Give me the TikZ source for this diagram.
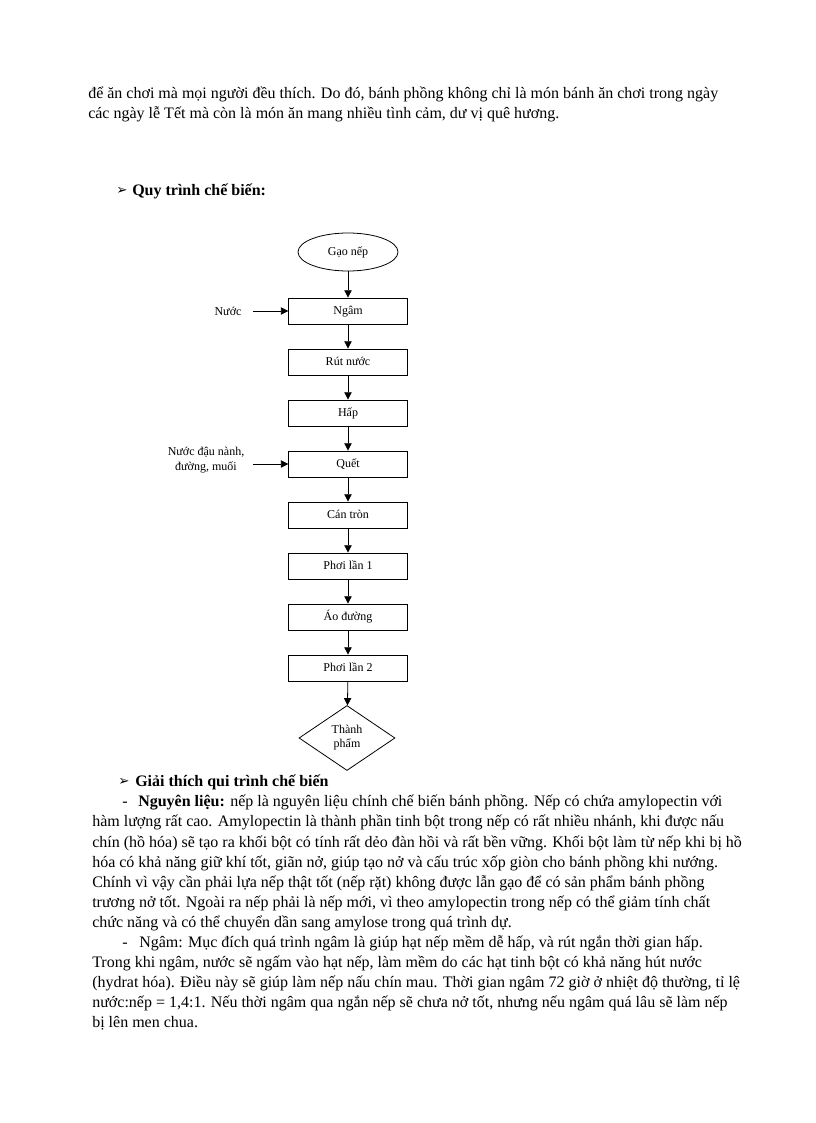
\documentclass[tikz,border=0pt]{standalone}
\usepackage{fontspec}
\setmainfont{Liberation Serif}
\newfontfamily\symfont{DejaVu Sans}
\usetikzlibrary{shapes.geometric,arrows.meta,shadows}

\tikzset{
  procbox/.style={draw, line width=0.6pt, fill=white, minimum width=89pt, minimum height=19.5pt,
    inner sep=1pt, text height=6.5pt, text depth=1.5pt, font=\fontsize{9}{10}\selectfont,
    drop shadow={shadow xshift=0.8pt, shadow yshift=-0.8pt, fill=black!45, opacity=1}},
  startnode/.style={ellipse, draw, line width=0.6pt, minimum width=75pt, minimum height=28.5pt,
    inner sep=0pt, font=\fontsize{9}{10}\selectfont},
  endnode/.style={diamond, draw, line width=0.6pt, aspect=1.5, minimum width=72pt, minimum height=48.75pt,
    inner sep=0pt, align=center, font=\fontsize{9}{10.5}\selectfont},
  inlabel/.style={align=center, inner sep=0pt, font=\fontsize{9}{11}\selectfont},
  flow/.style={-{Triangle[length=5.5pt,width=5.5pt]}, line width=0.6pt},
  bodyline/.style={anchor=base west, inner sep=0pt, font=\fontsize{12}{14}\selectfont},
  headline/.style={anchor=base west, inner sep=0pt, font=\fontsize{12}{14}\selectfont\bfseries},
  bullet/.style={anchor=base west, inner sep=0pt, font=\symfont\fontsize{10}{12}\selectfont},
}

\begin{document}
\begin{tikzpicture}[x=0.75pt,y=-0.75pt]
\useasboundingbox (0,0) rectangle (816,1123);

% opening text
\node[bodyline] (t1) at (88,99) {để ăn chơi mà mọi người đều thích. Do đó, bánh phồng không chỉ là món bánh ăn chơi trong ngày};
\node[bodyline] (t2) at (88,119) {các ngày lễ Tết mà còn là món ăn mang nhiều tình cảm, dư vị quê hương.};

% heading
\node[bullet] (b1) at (116,195) {➢};
\node[headline] (h1) at (132,196) {Quy trình chế biến:};

% flow chart
\node[startnode] (gao) at (348,252) {Gạo nếp};
\node[procbox] (ngam) at (348,311) {Ngâm};
\node[procbox] (rut) at (348,362) {Rút nước};
\node[procbox] (hap) at (348,413) {Hấp};
\node[procbox] (quet) at (348,464) {Quết};
\node[procbox] (can) at (348,515) {Cán tròn};
\node[procbox] (phoi1) at (348,566) {Phơi lần 1};
\node[procbox] (ao) at (348,617) {Áo đường};
\node[procbox] (phoi2) at (348,668) {Phơi lần 2};
\node[endnode] (thanh) at (347,738) {Thành\\phẩm};

\foreach \a/\b in {gao/ngam, ngam/rut, rut/hap, hap/quet, quet/can, can/phoi1, phoi1/ao, ao/phoi2, phoi2/thanh}
  \draw[flow] (\a) -- (\b);

% inputs
\node[inlabel] (nuoc) at (228,311) {Nước};
\coordinate (nuocin) at (253,311);
\draw[flow] (nuocin) -- (ngam.west);
\node[inlabel] (giavi) at (206,460) {Nước đậu nành,\\đường, muối};
\coordinate (giaviin) at (253,464);
\draw[flow] (giaviin) -- (quet.west);

% explanation
\node[bullet] (b2) at (118,785) {➢};
\node[headline] (h2) at (135,786) {Giải thích qui trình chế biến};
\node[bodyline] (d1) at (122,806) {-};
\node[bodyline] (p1) at (138,806) {\textbf{Nguyên liệu:} nếp là nguyên liệu chính chế biến bánh phồng. Nếp có chứa amylopectin với};
\node[bodyline] (p2) at (92,826) {hàm lượng rất cao. Amylopectin là thành phần tinh bột trong nếp có rất nhiều nhánh, khi được nấu};
\node[bodyline] (p3) at (92,847) {chín (hồ hóa) sẽ tạo ra khối bột có tính rất dẻo đàn hồi và rất bền vững. Khối bột làm từ nếp khi bị hồ};
\node[bodyline] (p4) at (92,867) {hóa có khả năng giữ khí tốt, giãn nở, giúp tạo nở và cấu trúc xốp giòn cho bánh phồng khi nướng.};
\node[bodyline] (p5) at (92,887) {Chính vì vậy cần phải lựa nếp thật tốt (nếp rặt) không được lẫn gạo để có sản phẩm bánh phồng};
\node[bodyline] (p6) at (92,907) {trương nở tốt. Ngoài ra nếp phải là nếp mới, vì theo amylopectin trong nếp có thể giảm tính chất};
\node[bodyline] (p7) at (92,927) {chức năng và có thể chuyển dần sang amylose trong quá trình dự.};
\node[bodyline] (d2) at (122,947) {-};
\node[bodyline] (p8) at (139,947) {Ngâm: Mục đích quá trình ngâm là giúp hạt nếp mềm dễ hấp, và rút ngắn thời gian hấp.};
\node[bodyline] (p9) at (92,967) {Trong khi ngâm, nước sẽ ngấm vào hạt nếp, làm mềm do các hạt tinh bột có khả năng hút nước};
\node[bodyline] (p10) at (92,987) {(hydrat hóa). Điều này sẽ giúp làm nếp nấu chín mau. Thời gian ngâm 72 giờ ở nhiệt độ thường, tỉ lệ};
\node[bodyline] (p11) at (92,1007) {nước:nếp = 1,4:1. Nếu thời ngâm qua ngắn nếp sẽ chưa nở tốt, nhưng nếu ngâm quá lâu sẽ làm nếp};
\node[bodyline] (p12) at (92,1027) {bị lên men chua.};
\end{tikzpicture}
\end{document}
